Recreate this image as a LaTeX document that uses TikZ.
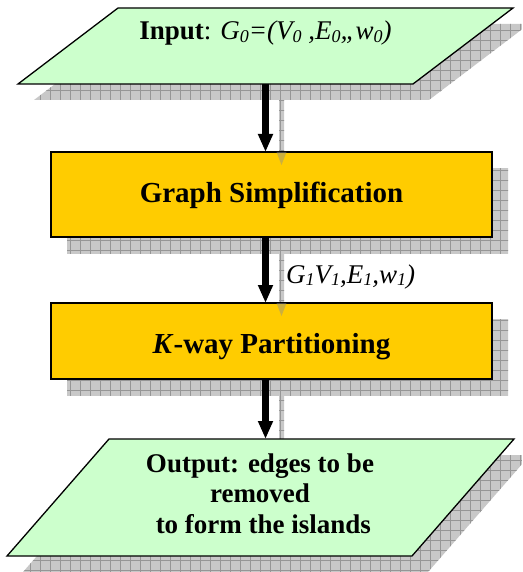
\documentclass[tikz,border=0pt]{standalone}
\usepackage{fontspec}
\setmainfont{Liberation Serif}
\usetikzlibrary{arrows.meta,calc}
\pgfdeclarelayer{bg}
\pgfsetlayers{bg,main}
\definecolor{iogreen}{RGB}{204,255,204}
\definecolor{procorange}{RGB}{255,204,0}
\definecolor{shadowfill}{RGB}{200,200,200}
\definecolor{shadowgrid}{RGB}{150,150,150}
\definecolor{headshade}{RGB}{140,140,140}
\newcommand{\sbs}[1]{\raisebox{-2.5pt}{\fontsize{18}{18}\selectfont #1}}
\newcommand{\gridfill}{\fill[shadowfill] (0,0) rectangle (522,572); \draw[shadowgrid,line width=0.6pt,step=10pt] (0,0) grid (522,572);}
\begin{document}
\begin{tikzpicture}[x=1pt,y=-1pt,
  frame/.style={draw=none,fill=none,inner sep=0pt,outer sep=0pt},
  procbox/.style={draw=black,line width=1.3pt,fill=procorange,inner sep=0pt,outer sep=0pt,minimum width=441pt},
  iopath/.style={draw=black,line width=1.3pt,fill=iogreen,line join=miter},
  bigtxt/.style={font=\fontsize{29}{29}\selectfont\bfseries,anchor=base,inner sep=0pt},
  iotxt/.style={font=\fontsize{27}{27}\selectfont,anchor=base,inner sep=0pt},
  flow/.style={line width=7pt,-{Triangle[width=14pt,length=18pt]}},
  sarrhead/.style={fill=headshade,fill opacity=0.45}]
\useasboundingbox (0,0) rectangle (522,572);
\coordinate (ax) at (265.5,0);
\node[frame,minimum width=495pt,minimum height=76pt] (inp) at (265.5,46) {};
\node[procbox,minimum height=85pt] (gs) at (271.5,194.5) {};
\node[procbox,minimum height=76pt] (kw) at (271.5,341) {};
\node[frame,minimum width=507pt,minimum height=117pt] (outp) at (260.5,497.5) {};

\begin{pgfonlayer}{bg}
  \begin{scope}
    \clip ($(inp.north west)+(116,16)$) -- ($(inp.north east)+(16,16)$) -- ($(inp.south east)+(-84,16)$) -- ($(inp.south west)+(16,16)$) -- cycle;
    \gridfill
  \end{scope}
  \begin{scope}
    \clip ($(gs.north west)+(16,16)$) rectangle ($(gs.south east)+(16,16)$);
    \gridfill
  \end{scope}
  \begin{scope}
    \clip ($(kw.north west)+(16,16)$) rectangle ($(kw.south east)+(16,16)$);
    \gridfill
  \end{scope}
  \begin{scope}
    \clip ($(outp.north west)+(118,16)$) -- ($(outp.north east)+(16,16)$) -- ($(outp.south east)+(-86,16)$) -- ($(outp.south west)+(16,16)$) -- cycle;
    \gridfill
  \end{scope}
  \begin{scope}
    \clip ($(inp.south -| ax)+(13.5,16)$) rectangle ($(gs.north -| ax)+(18.5,0)$);
    \gridfill
  \end{scope}
  \begin{scope}
    \clip ($(gs.south -| ax)+(13.5,16)$) rectangle ($(kw.north -| ax)+(18.5,0)$);
    \gridfill
  \end{scope}
  \begin{scope}
    \clip ($(kw.south -| ax)+(13.5,16)$) rectangle ($(outp.north -| ax)+(18.5,0)$);
    \gridfill
  \end{scope}
\end{pgfonlayer}

\draw[iopath] ([xshift=100pt]inp.north west) -- (inp.north east) -- ([xshift=-100pt]inp.south east) -- (inp.south west) -- cycle;
\draw[iopath] ([xshift=102pt]outp.north west) -- (outp.north east) -- ([xshift=-102pt]outp.south east) -- (outp.south west) -- cycle;

\fill[sarrhead] ($(gs.north -| ax)+(11,0)$) -- ($(gs.north -| ax)+(21,0)$) -- ($(gs.north -| ax)+(16,13)$) -- cycle;
\fill[sarrhead] ($(kw.north -| ax)+(11,0)$) -- ($(kw.north -| ax)+(21,0)$) -- ($(kw.north -| ax)+(16,13)$) -- cycle;

\draw[flow] (inp.south -| ax) -- (gs.north -| ax);
\draw[flow] (gs.south -| ax) -- (kw.north -| ax);
\draw[flow] (kw.south -| ax) -- (outp.north -| ax);

\node[iotxt] (tin) at (265.5,40) {\textbf{Input}: \textit{G\sbs{0}=(V\sbs{0} ,E\sbs{0},,w\sbs{0})}};
\node[bigtxt] (tgs) at (271.5,202) {Graph Simplification};
\node[bigtxt] (tkw) at (271.5,353) {\textit{K}-way Partitioning};
\node[iotxt,font=\fontsize{27}{27}\selectfont\bfseries] (to1) at (260,472.5) {Output: edges to be};
\node[iotxt,font=\fontsize{27}{27}\selectfont\bfseries] (to2) at (260,502.7) {removed};
\node[iotxt,font=\fontsize{27}{27}\selectfont\bfseries] (to3) at (260,533.3) {\ to form the islands};
\node[iotxt,anchor=base west] (lbl) at (286,283) {\textit{G\sbs{1}V\sbs{1},E\sbs{1},w\sbs{1})}};
\end{tikzpicture}
\end{document}
